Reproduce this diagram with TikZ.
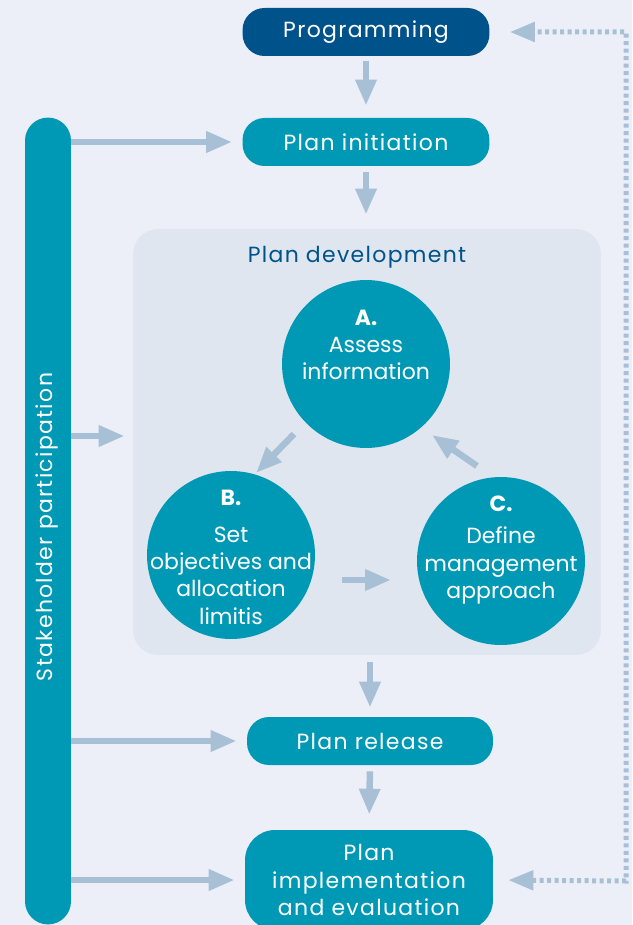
\documentclass[tikz,border=0pt]{standalone}
\usepackage{fontspec}
\setmainfont[LetterSpace=6]{Poppins}
\newfontfamily\circlefamily{Poppins}
\usetikzlibrary{arrows.meta,calc}
\definecolor{pagebg}{HTML}{ECEFF7}
\definecolor{panelbg}{HTML}{DFE6F0}
\definecolor{stageteal}{HTML}{0099B5}
\definecolor{stagenavy}{HTML}{00528A}
\definecolor{flowblue}{HTML}{A7C0D6}
\providecommand{\stagefont}{\fontsize{12.5}{15.5}\selectfont}

\begin{document}
\begin{tikzpicture}[x=0.02cm,y=-0.02cm,
    stagebox/.style={rectangle,rounded corners=0.44cm,fill=stageteal,text=white,
        minimum width=4.94cm,minimum height=0.96cm,font=\stagefont},
    stepcircle/.style={circle,fill=stageteal,minimum size=3.36cm,inner sep=0},
    circletext/.style={text=white,align=center,font=\circlefamily\stagefont},
    flow/.style={draw=flowblue,line width=0.13cm,-{Triangle[length=0.52cm,width=0.4cm]}},
    loopflow/.style={draw=flowblue,line width=0.1cm,dash pattern=on 0.08cm off 0.07cm,
        {Triangle[length=0.5cm,width=0.38cm]}-{Triangle[length=0.5cm,width=0.38cm]}}]
    \useasboundingbox (0,0) rectangle (632,925);
    \fill[pagebg] (0,0) rectangle (632,925);
    \clip (0,0) rectangle (632,925);
    % plan development panel
    \node[fill=panelbg,rounded corners=0.5cm,minimum width=9.36cm,minimum height=8.52cm] (dev) at (367,442) {};
    \node[text=stagenavy,font=\stagefont] (devlabel) at (357,257) {Plan development};
    % stages
    \node[stagebox,fill=stagenavy] (prog) at (366,32) {Programming};
    \node[stagebox] (init) at (366,142) {Plan initiation};
    \node[stagebox,minimum width=4.92cm] (rel) at (370,741) {Plan release};
    \node[stagebox,align=center,rounded corners=0.6cm,minimum width=4.96cm,minimum height=2cm] (impl) at (369,880)
        {Plan\\implementation\\and evaluation};
    % stakeholder bar
    \node[fill=stageteal,rounded corners=0.46cm,minimum width=0.92cm,minimum height=16.14cm] (bar) at (48,521) {};
    \node[rotate=90,text=white,font=\stagefont] (barlabel) at (47,527) {Stakeholder participation};
    % cycle
    \node[stepcircle] (a) at (366,364) {};
    \node[stepcircle] (b) at (231,555) {};
    \node[stepcircle] (c) at (501,561) {};
    \node[circletext] (atext) at (366,345) {\textbf{A.}\\Assess\\information};
    \node[circletext] (btext) at (231,557) {\textbf{B.}\\[0.2cm]Set\\objectives and\\allocation\\limitis};
    \node[circletext] (ctext) at (501,550) {\textbf{C.}\\[0.1cm]Define\\management\\approach};
    \draw[flow] ([shift={(-72,70)}]a.center) -- ([shift={(25,-82)}]b.center);
    \draw[flow] ([shift={(111,25)}]b.center) -- ([shift={(-110,19)}]c.center);
    \draw[flow] ([shift={(-24,-95)}]c.center) -- ([shift={(66,71)}]a.center);
    % main flow
    \draw[flow,shorten <=0.1cm,shorten >=0.24cm] (prog.south) -- (init.north);
    \draw[flow,shorten <=0.12cm,shorten >=0.28cm] (init.south) -- (init.south |- dev.north);
    \draw[flow,shorten <=0.14cm,shorten >=0.18cm] (rel.north |- dev.south) -- (rel.north);
    \draw[flow,shorten <=0.12cm,shorten >=0.3cm] (rel.south) -- (impl.north);
    % stakeholder input
    \draw[flow,shorten >=0.2cm] (bar.east |- init.west) -- (init.west);
    \draw[flow,shorten >=0.16cm] ($(bar.east |- dev.west)+(0,-6)$) -- ($(dev.west)+(0,-6)$);
    \draw[flow,shorten >=0.2cm] (bar.east |- rel.west) -- (rel.west);
    \draw[flow,shorten >=0.2cm] (bar.east |- impl.west) -- (impl.west);
    % feedback loop
    \coordinate (loopcorner) at (626,881);
    \draw[loopflow,shorten <=0.3cm,shorten >=0.4cm] (impl.east) -- (loopcorner) |- (prog.east);
\end{tikzpicture}
\end{document}
